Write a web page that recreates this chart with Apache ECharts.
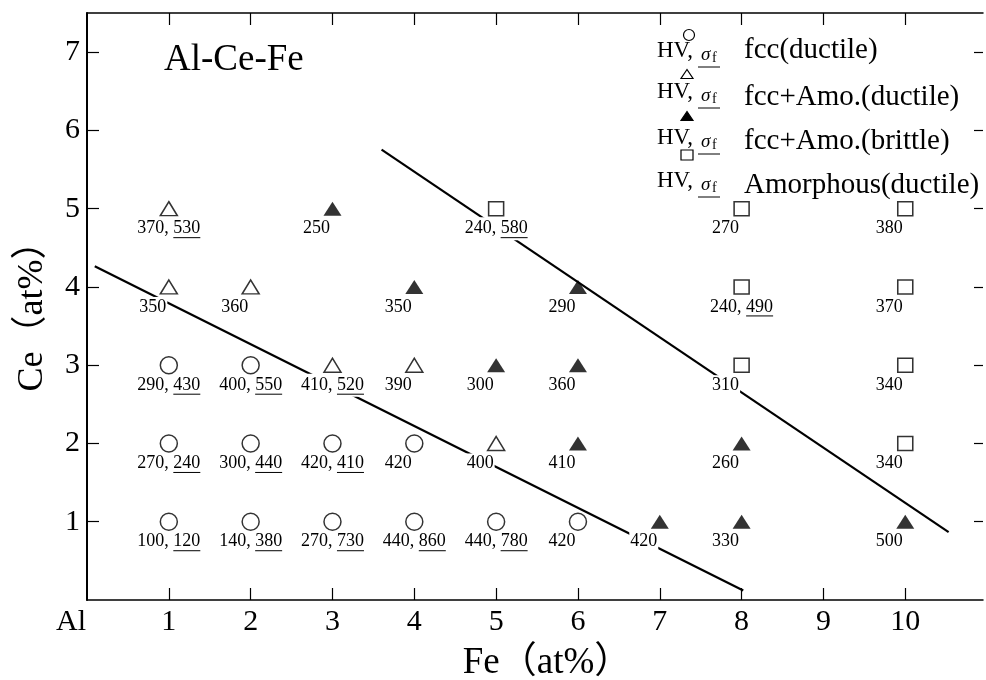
<!DOCTYPE html>
<html>
<head>
<meta charset="utf-8">
<script src="https://cdn.jsdelivr.net/npm/echarts@6/dist/echarts.min.js"></script>
<style>html,body{margin:0;padding:0;background:#fff}#c{width:986px;height:680px}</style>
</head>
<body>
<div id="c"></div>
<script>
// ---- data: [Fe at%, Ce at%, HV, sigma_f (null if not measured)] ----
const fccDuctile = [
  [1,1,100,120],[2,1,140,380],[3,1,270,730],[4,1,440,860],[5,1,440,780],[6,1,420,null],
  [1,2,270,240],[2,2,300,440],[3,2,420,410],[4,2,420,null],
  [1,3,290,430],[2,3,400,550]
];
const fccAmoDuctile = [
  [5,2,400,null],[3,3,410,520],[4,3,390,null],[1,4,350,null],[2,4,360,null],[1,5,370,530]
];
const fccAmoBrittle = [
  [7,1,420,null],[8,1,330,null],[10,1,500,null],
  [6,2,410,null],[8,2,260,null],
  [5,3,300,null],[6,3,360,null],
  [4,4,350,null],[6,4,290,null],
  [3,5,250,null]
];
const amorphousDuctile = [
  [10,2,340,null],[8,3,310,null],[10,3,340,null],[8,4,240,490],[10,4,370,null],
  [5,5,240,580],[8,5,270,null],[10,5,380,null]
];
const boundaryLow = [[0.095,4.264],[8.02,0.12]];
const boundaryHigh = [[3.60,5.755],[10.53,0.867]];
const xTickValues = [1,2,3,4,5,6,7,8,9,10];
const xLabelValues = [0,1,2,3,4,5,6,7,8,9,10];
const yTickValues = [1,2,3,4,5,6,7];
const legendNames = ['fcc(ductile)','fcc+Amo.(ductile)','fcc+Amo.(brittle)','Amorphous(ductile)'];

const SERIF = "'Liberation Serif','Noto Sans CJK JP',serif";
const LABEL_FONT = "18px 'Liberation Serif'";
const mctx = document.createElement('canvas').getContext('2d');
mctx.font = LABEL_FONT;
const tw = s => mctx.measureText(s).width;

const allPoints = [].concat(fccDuctile, fccAmoDuctile, fccAmoBrittle, amorphousDuctile);

const openStyle = {color:'#fff', borderColor:'#000', borderWidth:1.5};

const chart = echarts.init(document.getElementById('c'), null, {renderer:'canvas'});

// legend graphics
const legendRows = [
  {sym:'circle', mx:689, my:35, hy:51, ny:50},
  {sym:'open', mx:687, my:74, hy:92, ny:97},
  {sym:'filled', mx:687, my:116, hy:138, ny:141},
  {sym:'rect', mx:687, my:155, hy:181, ny:185}
];
const graphics = [];
legendRows.forEach((r, i) => {
  if (r.sym === 'circle') graphics.push({type:'circle', shape:{cx:r.mx, cy:r.my, r:5.5}, style:{fill:'#fff', stroke:'#000', lineWidth:1.2}});
  else if (r.sym === 'open' || r.sym === 'filled') graphics.push({type:'polygon', shape:{points:[[r.mx-6,r.my+4.5],[r.mx+6,r.my+4.5],[r.mx,r.my-4.5]]}, style:{fill: r.sym==='filled'?'#000':'#fff', stroke:'#000', lineWidth:1.2}});
  else graphics.push({type:'rect', shape:{x:r.mx-6, y:r.my-5, width:12, height:10}, style:{fill:'#fff', stroke:'#000', lineWidth:1.2}});
  graphics.push({type:'text', x:657, y:r.hy, style:{text:'HV,', font:"23px 'Liberation Serif'", fill:'#000', verticalAlign:'middle'}});
  graphics.push({type:'text', x:701, y:r.hy+4, style:{text:'σ', font:"italic 19px 'Liberation Serif'", fill:'#000', verticalAlign:'middle'}});
  graphics.push({type:'text', x:712, y:r.hy+7, style:{text:'f', font:"14px 'Liberation Serif'", fill:'#000', verticalAlign:'middle'}});
  graphics.push({type:'line', shape:{x1:698, y1:r.hy+16, x2:720, y2:r.hy+16}, style:{stroke:'#000', lineWidth:1}});
  graphics.push({type:'text', x:744, y:r.ny, style:{text:legendNames[i], font:"29px 'Liberation Serif'", fill:'#000', verticalAlign:'middle'}});
});

const option = {
  backgroundColor:'#fff',
  animation:false,
  title:{text:'Al-Ce-Fe', left:159, top:37, textStyle:{fontFamily:SERIF, fontSize:37, fontWeight:'normal', color:'#000'}},
  grid:{left:87, right:3, top:13, bottom:80, outerBoundsMode:'none', containLabel:false},
  xAxis:[{
    type:'value', position:'bottom', min:0, max:10.95,
    name:'{s| }{n|Fe（at%）}', nameLocation:'middle', nameGap:45,
    nameTextStyle:{fontFamily:SERIF, fontSize:37, color:'#000',
      rich:{s:{width:24, fontSize:37}, n:{fontFamily:SERIF, fontSize:37, color:'#000'}}},
    axisLine:{onZero:false, lineStyle:{color:'#000', width:1.5}},
    axisTick:{inside:true, length:12, customValues:xTickValues, lineStyle:{color:'#000', width:1.2}},
    axisLabel:{customValues:xLabelValues, margin:7, fontFamily:SERIF, fontSize:30, color:'#000',
      formatter: v => v === 0 ? '{al|Al}' : String(v),
      rich:{al:{fontFamily:SERIF, fontSize:30, color:'#000', padding:[0,32,0,0]}}},
    splitLine:{show:false}
  },{
    type:'value', position:'top', min:0, max:10.95,
    axisLine:{onZero:false, lineStyle:{color:'#000', width:1.5}},
    axisTick:{inside:true, length:12, customValues:xTickValues, lineStyle:{color:'#000', width:1.2}},
    axisLabel:{show:false}, splitLine:{show:false}
  }],
  yAxis:[{
    type:'value', position:'left', min:0, max:7.5,
    name:'Ce（at%）', nameLocation:'middle', nameRotate:90, nameGap:36,
    nameTextStyle:{fontFamily:SERIF, fontSize:36, color:'#000', padding:[0,2,0,0]},
    axisLine:{onZero:false, lineStyle:{color:'#000', width:2}},
    axisTick:{inside:true, length:12, customValues:yTickValues, lineStyle:{color:'#000', width:1.2}},
    axisLabel:{customValues:yTickValues, margin:7, fontFamily:SERIF, fontSize:30, color:'#000'},
    splitLine:{show:false}
  },{
    type:'value', position:'right', min:0, max:7.5,
    axisLine:{show:false, onZero:false},
    axisTick:{show:true, inside:true, length:9, customValues:yTickValues, lineStyle:{color:'#000', width:1.2}},
    axisLabel:{show:false}, splitLine:{show:false}
  }],
  graphic: graphics,
  series:[
    {type:'line', data:boundaryLow, symbol:'none', z:2, lineStyle:{color:'#000', width:2.2}, silent:true},
    {type:'line', data:boundaryHigh, symbol:'none', z:2, lineStyle:{color:'#000', width:2.2}, silent:true},
    {type:'custom', z:3, data:allPoints.map(p=>[p[0],p[1]]), silent:true,
      renderItem:(params, api) => {
        const p = allPoints[params.dataIndex];
        const c = api.coord([p[0], p[1]]);
        const cy = c[1] + 20;
        if (p[3] == null) {
          return {type:'text', style:{text:String(p[2]), x:c[0]-16, y:cy, align:'center', verticalAlign:'middle', font:LABEL_FONT, fill:'#000', backgroundColor:'#fff', padding:[1,1]}};
        }
        const full = p[2] + ', ' + p[3];
        const w = tw(full), sw = tw(String(p[3]));
        const left = c[0] - w/2;
        return {type:'group', children:[
          {type:'text', style:{text:full, x:c[0], y:cy, align:'center', verticalAlign:'middle', font:LABEL_FONT, fill:'#000', backgroundColor:'#fff', padding:[1,1,4,1]}},
          {type:'line', shape:{x1:left+w-sw, y1:cy+9, x2:left+w, y2:cy+9}, style:{stroke:'#000', lineWidth:1}}
        ]};
      }
    },
    {type:'scatter', z:4, data:fccDuctile.map(p=>[p[0],p[1]]), symbol:'circle', symbolSize:17, itemStyle:openStyle},
    {type:'scatter', z:4, data:fccAmoDuctile.map(p=>[p[0],p[1]]), symbol:'triangle', symbolSize:[17,14], itemStyle:openStyle},
    {type:'scatter', z:4, data:fccAmoBrittle.map(p=>[p[0],p[1]]), symbol:'triangle', symbolSize:[18,14], itemStyle:{color:'#000'}},
    {type:'scatter', z:4, data:amorphousDuctile.map(p=>[p[0],p[1]]), symbol:'rect', symbolSize:[15,14], itemStyle:openStyle}
  ]
};
chart.setOption(option);
</script>
</body>
</html>
